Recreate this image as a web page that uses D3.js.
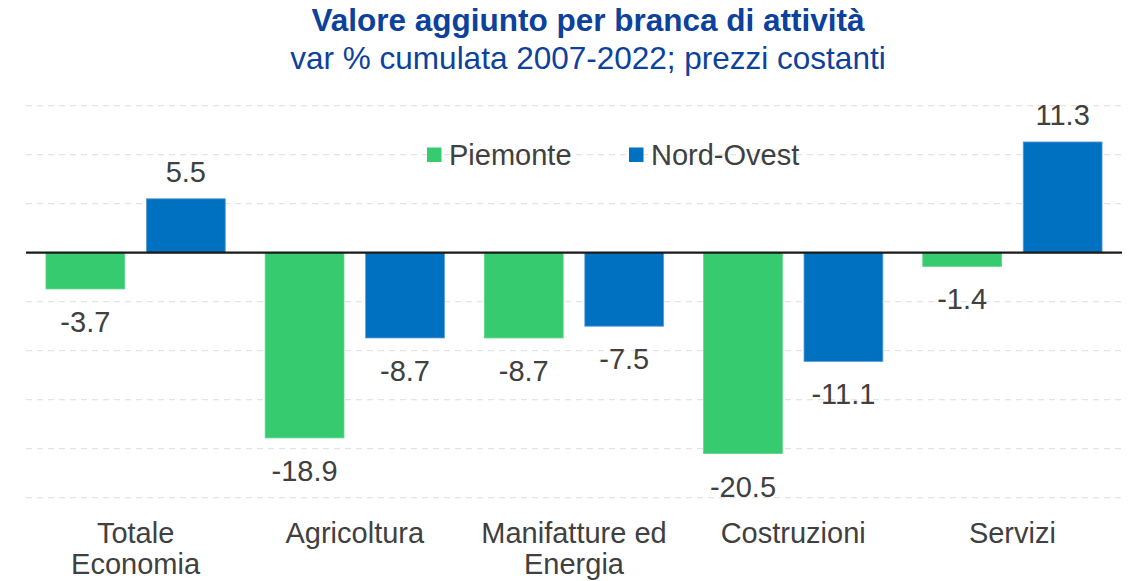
<!DOCTYPE html>
<html><head><meta charset="utf-8">
<script src="https://cdn.jsdelivr.net/npm/d3@7"></script>
<style>body{margin:0;background:#fff;} svg{display:block;}</style>
</head><body>
<svg id="chart" width="1133" height="581"></svg>
<script>
const categories = [["Totale","Economia"],["Agricoltura"],["Manifatture ed","Energia"],["Costruzioni"],["Servizi"]];
const seriesNames = ["Piemonte","Nord-Ovest"];
const piemonte = [-3.7, -18.9, -8.7, -20.5, -1.4];
const nordOvest = [5.5, -8.7, -7.5, -11.1, 11.3];
const gridTicks = [15, 10, 5, -5, -10, -15, -20, -25];
const colors = ["#36CB6F", "#0070C0"];
const strokes = ["#5ED68A", "#5B9BD5"];

const svg = d3.select("#chart");
const font = "'Liberation Sans', Arial, sans-serif";
const left = 26, right = 1122;
const x0 = d3.scaleBand().domain(d3.range(categories.length)).range([left, right]).padding(0);
const x1 = d3.scaleBand().domain([0,1]).range([0, x0.bandwidth()]).paddingInner(0.2155).paddingOuter(0.1986);
const y = d3.scaleLinear().domain([-25, 15]).range([497.7, 105.7]);

// gridlines
svg.append("g").selectAll("line").data(gridTicks).join("line")
  .attr("x1", left).attr("x2", right)
  .attr("y1", d => y(d)).attr("y2", d => y(d))
  .attr("stroke", "#E4E4E4").attr("stroke-width", 1.3).attr("stroke-dasharray", "6,5");

// title
svg.append("text").attr("x", 588).attr("y", 31).attr("text-anchor", "middle")
  .attr("font-family", font).attr("font-weight", "bold").attr("font-size", 31.5)
  .attr("fill", "#0C419C").text("Valore aggiunto per branca di attività");
svg.append("text").attr("x", 588).attr("y", 69).attr("text-anchor", "middle")
  .attr("font-family", font).attr("font-size", 31.5)
  .attr("fill", "#0C419C").text("var % cumulata 2007-2022; prezzi costanti");

// legend
const legendX = [427, 629];
seriesNames.forEach((n, i) => {
  svg.append("rect").attr("x", legendX[i]).attr("y", 147.5).attr("width", 14.5).attr("height", 14.5).attr("fill", colors[i]);
  svg.append("text").attr("x", legendX[i] + 22).attr("y", 164.5)
    .attr("font-family", font).attr("font-size", 29).attr("fill", "#404040").text(n);
});

const data = [piemonte, nordOvest];
const g = svg.append("g");
data.forEach((vals, s) => {
  g.selectAll(null).data(vals).join("rect")
    .attr("x", (d, i) => x0(i) + x1(s))
    .attr("width", x1.bandwidth())
    .attr("y", d => y(Math.max(0, d)))
    .attr("height", d => Math.abs(y(d) - y(0)))
    .attr("fill", colors[s]).attr("stroke", strokes[s]).attr("stroke-width", 0.8);
  g.selectAll(null).data(vals).join("text")
    .attr("x", (d, i) => x0(i) + x1(s) + x1.bandwidth() / 2)
    .attr("y", d => d >= 0 ? y(d) - 17 : y(d) + 43)
    .attr("text-anchor", "middle").attr("font-family", font).attr("font-size", 29)
    .attr("fill", "#404040").text(d => d.toFixed(1));
});

// zero line
svg.append("line").attr("x1", left).attr("x2", right).attr("y1", y(0)).attr("y2", y(0))
  .attr("stroke", "#1a1a1a").attr("stroke-width", 2.2);

// category labels
categories.forEach((lines, i) => {
  const t = svg.append("text").attr("text-anchor", "middle").attr("font-family", font)
    .attr("font-size", 29).attr("fill", "#404040");
  lines.forEach((l, k) => {
    t.append("tspan").attr("x", x0(i) + x0.bandwidth() / 2).attr("y", 543 + k * 31).text(l);
  });
});
</script>
</body></html>
